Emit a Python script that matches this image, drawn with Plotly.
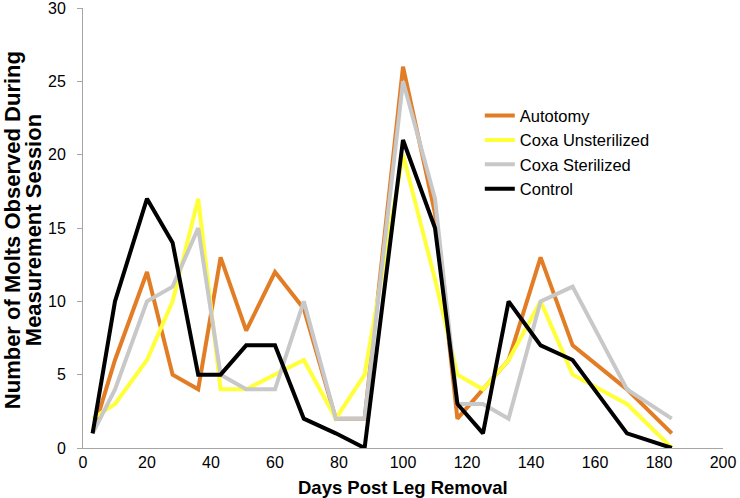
import plotly.graph_objects as go

days = [3, 10, 20, 28, 36, 43, 51, 60, 69, 79, 88, 100, 110, 117, 125, 133, 143, 153, 170, 184]
autotomy = [1, 6, 12, 5, 4, 13, 8, 12, 9.5, 2, 2, 26, 16, 2, 4, 6, 13, 7, 4, 1]
coxa_unsterilized = [2, 3, 6, 10, 17, 4, 4, 5, 6, 2, 5, 20, 11.5, 5, 4, 6, 10, 5, 3, 0]
coxa_sterilized = [1, 4, 10, 11, 15, 5, 4, 4, 10, 2, 2, 25, 17, 3, 3, 2, 10, 11, 4, 2]
control = [1, 10, 17, 14, 5, 5, 7, 7, 2, 1, 0, 21, 15, 3, 1, 10, 7, 6, 1, 0]

series = [
    ("Autotomy", autotomy, "#E27D26"),
    ("Coxa Unsterilized", coxa_unsterilized, "#FFFF3A"),
    ("Coxa Sterilized", coxa_sterilized, "#C8C8C8"),
    ("Control", control, "#000000"),
]

fig = go.Figure()
for name, vals, color in series:
    fig.add_trace(go.Scatter(x=days, y=vals, mode="lines", name=name,
                             line=dict(color=color, width=4)))

font = "Liberation Sans, Arial, sans-serif"
fig.update_layout(
    width=740, height=498,
    margin=dict(l=83, r=17, t=8, b=50, autoexpand=False),
    paper_bgcolor="white", plot_bgcolor="white",
    font=dict(family=font, size=16, color="black"),
    showlegend=True,
    legend=dict(x=0.62, y=0.795, xanchor="left", yanchor="top",
                bgcolor="rgba(0,0,0,0)", font=dict(size=16.5),
                tracegroupgap=0, itemwidth=30),
    xaxis=dict(range=[0, 200], dtick=20, showgrid=False, zeroline=False,
               showline=True, linecolor="#A6A6A6", linewidth=1,
               ticks="", tickfont=dict(size=16), automargin=False,
               ticklabeloverflow="allow"),
    yaxis=dict(range=[0, 30], dtick=5, showgrid=False, zeroline=False,
               showline=True, linecolor="#A6A6A6", linewidth=1,
               ticks="outside", ticklen=5, tickcolor="#A6A6A6", tickfont=dict(size=16),
               ticklabelstandoff=8, automargin=False, ticklabeloverflow="allow"),
    annotations=[
        dict(text="<b>Days Post Leg Removal</b>", xref="paper", yref="paper",
             x=0.5, y=-40 / 440, xanchor="center", yanchor="middle",
             showarrow=False, font=dict(size=18.5)),
        dict(text="<b>Number of Molts Observed During</b>", xref="paper", yref="paper",
             x=-71 / 640, y=0.495, xanchor="center", yanchor="middle", textangle=-90,
             showarrow=False, font=dict(size=22)),
        dict(text="<b>Measurement Session</b>", xref="paper", yref="paper",
             x=-50 / 640, y=0.495, xanchor="center", yanchor="middle", textangle=-90,
             showarrow=False, font=dict(size=22)),
    ],
)

fig.write_html("out.html", config={"displayModeBar": False},
               post_script="document.body.style.margin='0px';document.body.style.overflow='hidden';")
